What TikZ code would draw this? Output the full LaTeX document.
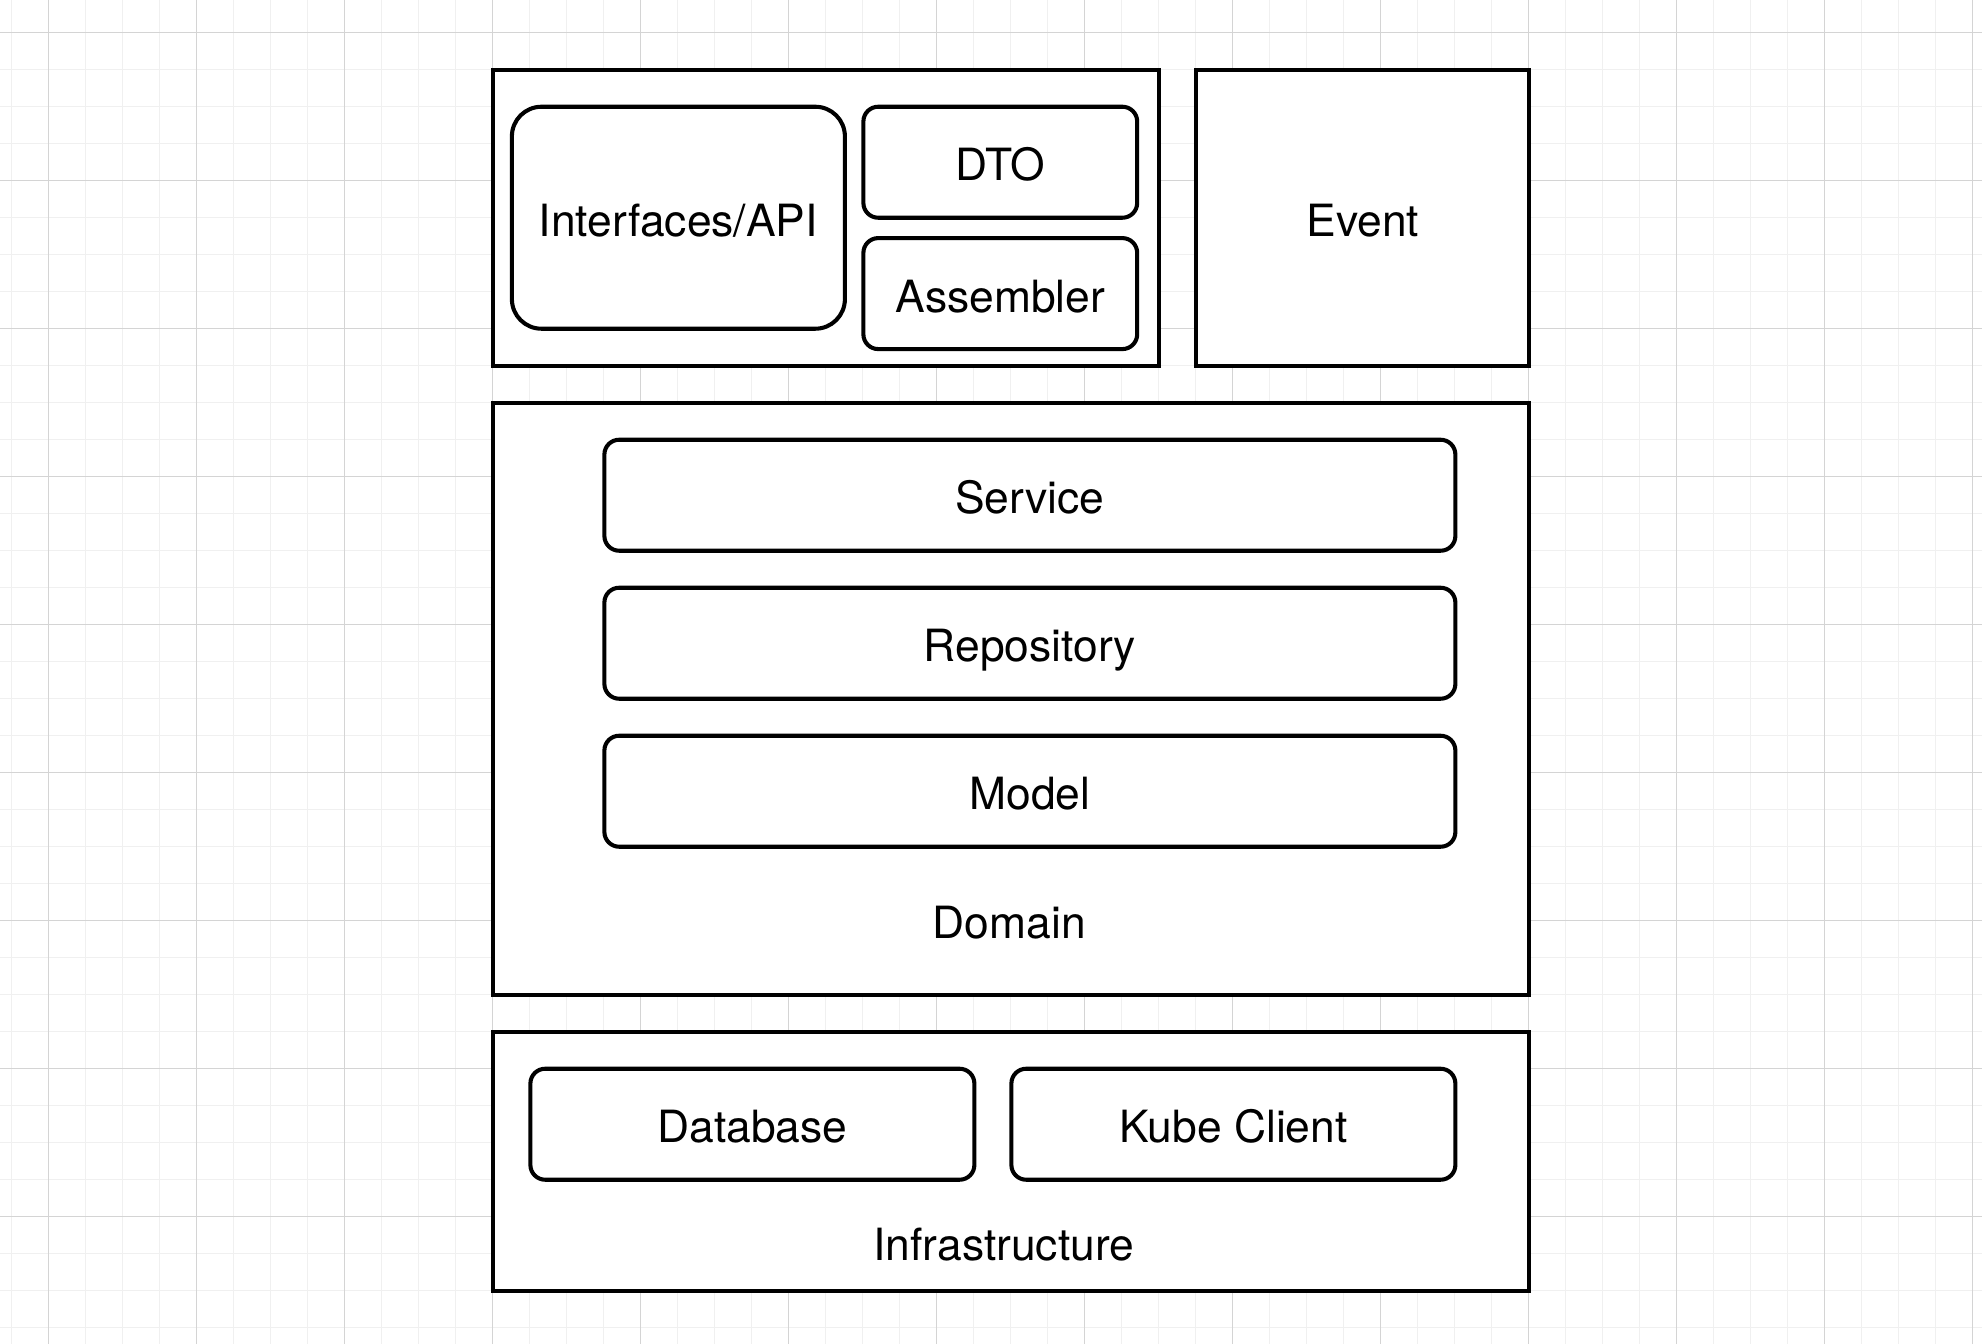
\documentclass[tikz,border=0pt]{standalone}
\usepackage{fontspec}
\setmainfont{TeX Gyre Heros}
\definecolor{gridminor}{HTML}{F0F0F0}
\definecolor{gridmajor}{HTML}{D4D4D4}

\begin{document}
\begin{tikzpicture}[x=1pt, y=-1pt,
  txt/.style={font=\fontsize{12}{14}\selectfont, text height=10pt, text depth=0pt},
  layer/.style={draw, line width=1.1pt, fill=white, anchor=north west, inner sep=0pt, txt},
  part/.style={draw, line width=1.1pt, fill=white, rounded corners=4pt, anchor=north west, inner sep=0pt, minimum height=30pt, txt}]
\useasboundingbox[fill=white] (0,0) rectangle (535.68,363.24);
% background grid
\foreach \x in {3.2,13.2,...,533.2} \draw[gridminor, line width=0.3pt] (\x,0) -- (\x,363.24);
\foreach \y in {8.9,18.9,...,358.9} \draw[gridminor, line width=0.3pt] (0,\y) -- (535.68,\y);
\foreach \x in {13.2,53.2,...,533.2} \draw[gridmajor, line width=0.3pt] (\x,0) -- (\x,363.24);
\foreach \y in {8.9,48.9,...,328.9} \draw[gridmajor, line width=0.3pt] (0,\y) -- (535.68,\y);

\begin{scope}[shift={(132.8,18.3)}]
% top row
\node[layer, minimum width=180pt, minimum height=80pt] (ui) at (0,0) {};
\node[layer, minimum width=90pt, minimum height=80pt] (event) at (190,0) {Event};
\node[part, rounded corners=8pt, minimum width=90pt, minimum height=60pt] (api) at (5,10) {Interfaces/API};
\node[part, minimum width=74pt] (dto) at (100,10) {DTO};
\node[part, minimum width=74pt] (asm) at (100,45.5) {Assembler};
% domain
\node[layer, minimum width=280pt, minimum height=160pt] (domain) at (0,90) {};
\node[part, minimum width=230pt] (service) at (30,100) {Service};
\node[part, minimum width=230pt] (repo) at (30,140) {Repository};
\node[part, minimum width=230pt] (model) at (30,180) {Model};
\node[txt] (domainlbl) at (140,230.4) {Domain};
% infrastructure
\node[layer, minimum width=280pt, minimum height=70pt] (infra) at (0,260) {};
\node[part, minimum width=120pt] (db) at (10,270) {Database};
\node[part, minimum width=120pt] (kube) at (140,270) {Kube Client};
\node[txt] (infralbl) at (138.5,317.3) {Infrastructure};
\end{scope}
\end{tikzpicture}
\end{document}
